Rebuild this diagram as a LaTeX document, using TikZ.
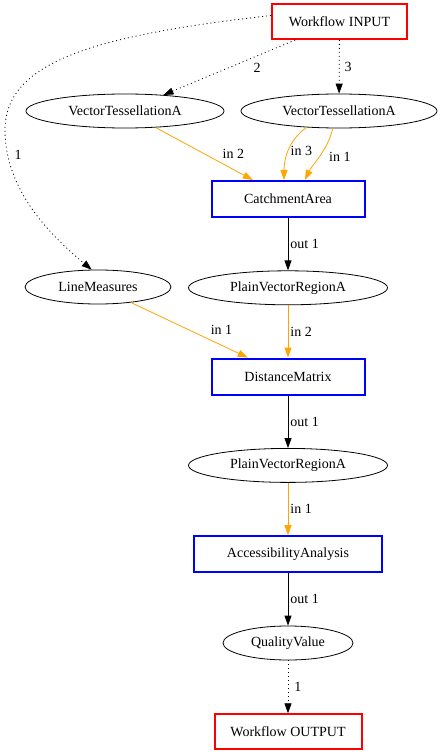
\documentclass[tikz,border=0pt]{standalone}
\usepackage{fontspec}
\setmainfont{Liberation Serif}
\usetikzlibrary{positioning,shapes.geometric,arrows.meta}
\definecolor{gvorange}{RGB}{255,165,0}
\tikzset{
  every node/.style={font=\fontsize{14}{16}\selectfont},
  data/.style={draw,ellipse,line width=0.8pt,inner sep=0pt,minimum height=34pt},
  tool/.style={draw=blue,line width=2pt,minimum height=36pt},
  wio/.style={draw=red,line width=2pt,minimum height=35pt},
  lbl/.style={inner sep=0pt},
  tip/.style={-{Triangle[length=10pt,width=7pt]}},
  feed/.style={tip,draw=gvorange,line width=0.8pt},
  give/.style={tip,line width=0.8pt},
  wire/.style={tip,line width=0.8pt,dash pattern=on 1pt off 3pt}
}
\begin{document}
\begin{tikzpicture}[x=1pt,y=-1pt,node distance=88.8pt]
\useasboundingbox (0,0) rectangle (442,754);
\node[wio,minimum width=135pt] (in) at (339.5,21.5) {Workflow INPUT};
\node[data,minimum width=198pt] (vta) at (125,111) {VectorTessellationA};
\node[data,minimum width=196pt] (vtb) at (339,111) {VectorTessellationA};
\node[tool,minimum width=153pt] (ca) at (288,199) {CatchmentArea};
\node[data,minimum width=146pt] (lm) at (98,287) {LineMeasures};
\node[data,minimum width=199pt,below of=ca] (pva) {PlainVectorRegionA};
\node[tool,minimum width=153pt,below of=pva] (dm) {DistanceMatrix};
\node[data,minimum width=199pt,below of=dm] (pvb) {PlainVectorRegionA};
\node[tool,minimum width=188pt,below of=pvb] (aa) {AccessibilityAnalysis};
\node[data,minimum width=130pt,below of=aa] (qv) {QualityValue};
\node[wio,minimum width=147pt,below of=qv] (out) {Workflow OUTPUT};

% inputs
\draw[wire] ([yshift=6pt]in.west) .. controls (100,35) and (5,60) .. (5,130)
  node[lbl] at (18,155) {1}
  .. controls (5,190) and (50,235) .. (lm.110);
\draw[wire] (in) -- node[lbl,right=24pt] {2} (vta);
\draw[wire] (in) -- node[lbl,right=5pt] {3} (vtb);

% catchment
\draw[feed] (vta) -- node[lbl,right=18pt] {in 2} (ca);
\draw[feed] (vtb.207) .. controls (288,140) and (284,160) ..
  node[lbl,right=2pt] {in 3} ([xshift=-4pt]ca.north);
\draw[feed] (vtb.250) .. controls (328,150) and (312,165) ..
  node[lbl,right=9pt] {in 1} ([xshift=17pt]ca.north);
\draw[give] (ca) -- node[lbl,right=2pt] {out 1} (pva);

% distance
\draw[feed] (lm) -- node[lbl,right=21pt] {in 1} (dm);
\draw[feed] (pva) -- node[lbl,right=2pt] {in 2} (dm);
\draw[give] (dm) -- node[lbl,right=2pt] {out 1} (pvb);

% accessibility
\draw[feed] (pvb) -- node[lbl,right=2pt] {in 1} (aa);
\draw[give] (aa) -- node[lbl,right=2pt] {out 1} (qv);
\draw[wire] (qv) -- node[lbl,right=6pt] {1} (out);
\end{tikzpicture}
\end{document}
